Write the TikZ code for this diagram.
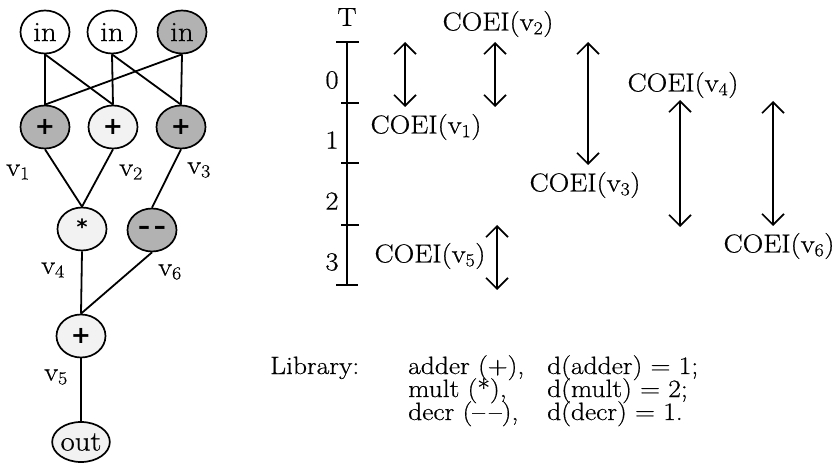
\documentclass[tikz,border=0pt]{standalone}
\usepackage{fontspec}
\setmainfont{Latin Modern Roman}[FakeStretch=1.1, FakeBold=0.6]
\newfontfamily\opsymfont{DejaVu Sans}
\usetikzlibrary{shapes.geometric,arrows.meta}
\begin{document}
\begin{tikzpicture}[x=1pt,y=-1pt,
  op/.style={ellipse, draw, line width=1.7pt, minimum width=49pt, minimum height=43pt, inner sep=0pt, font=\fontsize{28}{30}\selectfont},
  shaded/.style={op, fill=black!30},
  light/.style={op, fill=black!5},
  plain/.style={op, fill=white},
  edge/.style={line width=1.8pt},
  axis/.style={line width=2pt},
  txt/.style={font=\fontsize{26}{30}\selectfont, inner sep=0pt},
  lib/.style={font=\fontsize{25}{28}\selectfont, inner sep=0pt, anchor=base west},
  dbl/.style={line width=1.6pt, {Straight Barb[length=11pt,width=22pt]}-{Straight Barb[length=11pt,width=22pt]}},
  plus/.style={font=\opsymfont\fontsize{24}{24}\selectfont\bfseries}
]
\useasboundingbox (0,0) rectangle (839,465);

% ---- DAG ----
\node[plain]  (in1) at (45,32)  {in};
\node[plain]  (in2) at (112,32) {in};
\node[shaded] (in3) at (182,32) {in};
\node[shaded, plus] (v1) at (45,127)  {+};
\node[light, plus]  (v2) at (113,127) {+};
\node[shaded, plus] (v3) at (181,127) {+};
\node[light, plus]  (v4) at (82,229)  {\fontsize{21}{21}\selectfont\raisebox{5pt}{*}};
\node[shaded, plus] (v6) at (152,230) {–\,–};
\node[light, plus]  (v5) at (81,336)  {+};
\node[light, minimum width=51pt, minimum height=40pt] (out) at (81,442) {out};

\draw[edge] (in1.south) -- (v1.north);
\draw[edge] (in1.south) -- (v2.north);
\draw[edge] (in2.south) -- (v2.north);
\draw[edge] (in2.south) -- (v3.north);
\draw[edge] (in3.south) -- (v3.north);
\draw[edge] (in3.south) -- (v1.north);
\draw[edge] (v1.south) -- (v4.north);
\draw[edge] (v2.south) -- (v4.north);
\draw[edge] (v3.south) -- (v6.north);
\draw[edge] (v4.south) -- (v5.north);
\draw[edge] (v6.south) -- (v5.north);
\draw[edge] (v5.south) -- (out.north);

\node[txt] (l1) at (18,172)  {v\textsubscript{1}};
\node[txt] (l2) at (131,172) {v\textsubscript{2}};
\node[txt] (l3) at (199,170) {v\textsubscript{3}};
\node[txt] (l4) at (53,270)  {v\textsubscript{4}};
\node[txt] (l6) at (170,272) {v\textsubscript{6}};
\node[txt] (l5) at (56,377)  {v\textsubscript{5}};

% ---- time axis ----
\coordinate (t0) at (347,42);
\coordinate (t1) at (347,103);
\coordinate (t2) at (347,163);
\coordinate (t3) at (347,225);
\coordinate (t4) at (347,285);
\draw[axis] (t0) -- (t4);
\draw[axis] ([xshift=-11pt]t0) -- ([xshift=12pt]t0);
\draw[axis] ([xshift=-6pt]t1) -- ([xshift=12pt]t1);
\draw[axis] ([xshift=-6pt]t2) -- ([xshift=12pt]t2);
\draw[axis] ([xshift=-6pt]t3) -- ([xshift=12pt]t3);
\draw[axis] ([xshift=-11pt]t4) -- ([xshift=11pt]t4);
\node[txt] (T) at (347,17) {T};
\node[txt] (n0) at (332,80) {0};
\node[txt] (n1) at (332,140) {1};
\node[txt] (n2) at (332,201) {2};
\node[txt] (n3) at (332,262) {3};

% ---- COEI intervals ----
\coordinate (a1t) at (405,42);  \coordinate (a1b) at (405,107);
\coordinate (a2t) at (495,42);  \coordinate (a2b) at (495,107);
\coordinate (a3t) at (588,42);  \coordinate (a3b) at (588,165);
\coordinate (a4t) at (680,100); \coordinate (a4b) at (680,227);
\coordinate (a6t) at (773,101); \coordinate (a6b) at (773,226);
\coordinate (a5t) at (497,225); \coordinate (a5b) at (497,290);
\draw[dbl] (a1t) -- (a1b);
\draw[dbl] (a2t) -- (a2b);
\draw[dbl] (a3t) -- (a3b);
\draw[dbl] (a4t) -- (a4b);
\draw[dbl] (a6t) -- (a6b);
\draw[dbl] (a5t) -- (a5b);

\node[txt] (c1) at (426,127) {COEI(v\textsubscript{1})};
\node[txt] (c2) at (498,24)  {COEI(v\textsubscript{2})};
\node[txt] (c3) at (585,185) {COEI(v\textsubscript{3})};
\node[txt] (c4) at (683,85)  {COEI(v\textsubscript{4})};
\node[txt] (c6) at (779,246) {COEI(v\textsubscript{6})};
\node[txt] (c5) at (430,256) {COEI(v\textsubscript{5})};

% ---- library ----
\node[lib] (lb) at (270,374) {Library:};
\node[lib] (la1) at (408,374) {adder (+),};
\node[lib] (ld1) at (547,374) {d(adder) = 1;};
\node[lib] (la2) at (408,397) {mult (*),};
\node[lib] (ld2) at (547,397) {d(mult) = 2;};
\node[lib] (la3) at (408,420) {decr (–\,–),};
\node[lib] (ld3) at (547,420) {d(decr) = 1.};
\end{tikzpicture}
\end{document}
